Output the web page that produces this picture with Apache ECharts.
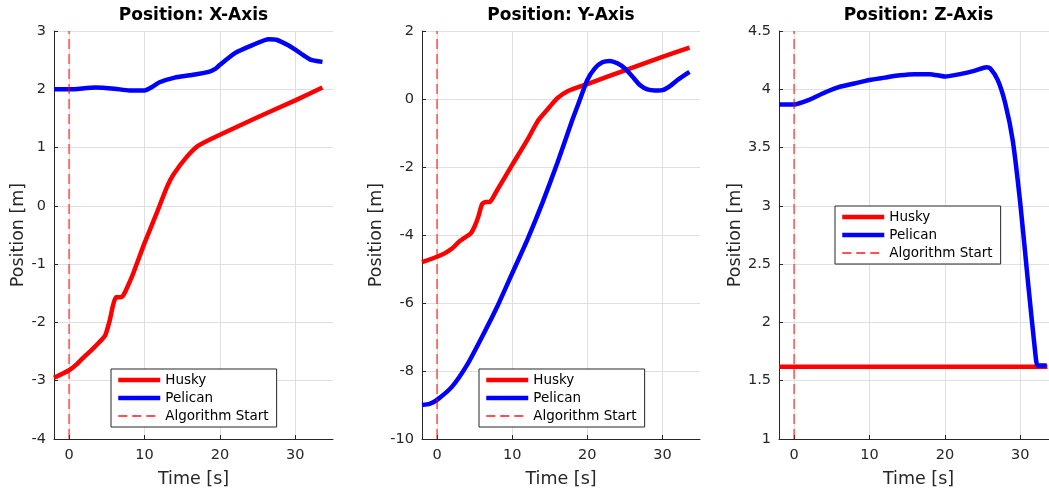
<!DOCTYPE html>
<html>
<head>
<meta charset="utf-8">
<script src="https://cdn.jsdelivr.net/npm/echarts@6/dist/echarts.min.js"></script>
<style>
  html, body { margin: 0; padding: 0; background: #fff; }
  #chart { width: 1049px; height: 488px; }
</style>
</head>
<body>
<div id="chart"></div>
<script>
// time ticks shared by all three panels
const timeTicks = [0, 10, 20, 30]

// X-axis panel
const huskyXTime = [-2, 0, 1, 2, 3, 4, 4.8, 5.4, 5.8, 6.2, 6.6, 7.1, 7.6, 8.5, 10, 11.6, 13, 13.8, 15.6, 17.1, 20, 25, 30, 33.6]
const huskyX = [-2.95, -2.82, -2.72, -2.59, -2.47, -2.34, -2.22, -1.96, -1.72, -1.57, -1.57, -1.55, -1.43, -1.16, -0.64, -0.13, 0.33, 0.53, 0.84, 1.03, 1.22, 1.52, 1.81, 2.03]
const pelicanXTime = [-2, 0, 3.5, 6, 8, 10, 11, 12, 14, 16, 18.5, 19.5, 20, 22, 24, 26.5, 27.5, 29, 30, 31, 32, 33.6]
const pelicanX = [2.0, 2.0, 2.03, 2.01, 1.98, 1.98, 2.04, 2.12, 2.2, 2.24, 2.3, 2.36, 2.42, 2.62, 2.74, 2.86, 2.85, 2.76, 2.68, 2.59, 2.51, 2.47]

// Y-axis panel
const huskyYTime = [-2, 0, 1, 2, 3, 4, 4.5, 5, 5.5, 6, 6.5, 7, 7.5, 8, 10, 12, 13.5, 15, 16, 17.5, 20, 25, 30, 33.6]
const huskyY = [-4.80, -4.64, -4.54, -4.40, -4.18, -4.03, -3.95, -3.75, -3.46, -3.09, -3.03, -3.03, -2.88, -2.68, -1.94, -1.21, -0.62, -0.23, 0.02, 0.24, 0.44, 0.84, 1.24, 1.51]
const pelicanYTime = [-2, -1, 0, 2, 4, 6, 8, 10, 12, 14, 16, 18, 19, 20, 21, 22, 23, 24, 25, 26, 27, 28, 29, 30, 31, 32, 33.6]
const pelicanY = [-9.0, -8.97, -8.85, -8.46, -7.82, -6.99, -6.11, -5.13, -4.15, -3.07, -1.89, -0.62, -0.03, 0.56, 0.9, 1.08, 1.12, 1.05, 0.9, 0.66, 0.41, 0.28, 0.25, 0.26, 0.38, 0.56, 0.8]

// Z-axis panel
const huskyZTime = [-2, 10, 20, 30, 33.6]
const huskyZ = [1.62, 1.62, 1.62, 1.62, 1.62]
const pelicanZTime = [-2, 0, 2, 4, 6, 8, 10, 12, 14, 16, 18, 20, 22, 24, 25.5, 26, 27, 28, 29, 30, 31, 32, 32.3, 33.5]
const pelicanZ = [3.87, 3.87, 3.91, 3.97, 4.02, 4.05, 4.08, 4.10, 4.12, 4.13, 4.13, 4.11, 4.13, 4.16, 4.19, 4.18, 4.08, 3.88, 3.56, 3.02, 2.36, 1.73, 1.63, 1.63]

// algorithm start marker (t = 0) spans each panel's y range
const startTime = [0, 0]
const startX = [-4, 3]
const startY = [-10, 2]
const startZ = [1, 4.5]

const titles = ['Position: X-Axis', 'Position: Y-Axis', 'Position: Z-Axis']
const yMin = [-4, -10, 1]
const yMax = [3, 2, 4.5]
const yStep = [1, 2, 0.5]

const FONT = 'DejaVu Sans'
const INK = '#262626'

const zip = (ts, vs) => ts.map((t, i) => [t, vs[i]])

const panels = [
  { husky: zip(huskyXTime, huskyX), pelican: zip(pelicanXTime, pelicanX), start: zip(startTime, startX) },
  { husky: zip(huskyYTime, huskyY), pelican: zip(pelicanYTime, pelicanY), start: zip(startTime, startY) },
  { husky: zip(huskyZTime, huskyZ), pelican: zip(pelicanZTime, pelicanZ), start: zip(startTime, startZ) },
]

// plot boxes; the third runs past the right edge like the original
const grids = [
  { left: 54, top: 31, width: 279, height: 408, outerBoundsMode: 'none' },
  { left: 422, top: 31, width: 278, height: 408, outerBoundsMode: 'none' },
  { left: 779, top: 31, width: 279, height: 408, outerBoundsMode: 'none' },
]
const yNameGap = [26.5, 36.5, 35]
const legendPos = [
  { left: 111, top: 369 },
  { left: 479, top: 369 },
  { left: 835, top: 206 },
]

const gridLine = { show: true, lineStyle: { color: '#dfdfdf', width: 1 } }
const axisLine = { show: true, onZero: false, lineStyle: { color: INK, width: 1 } }
const hiddenSymbol = { opacity: 0, borderWidth: 0 }

const option = {
  animation: false,
  backgroundColor: '#fff',
  title: titles.map((t, i) => ({
    text: t,
    left: grids[i].left + grids[i].width / 2,
    top: 7,
    padding: 0,
    textAlign: 'center',
    textStyle: { fontFamily: FONT, fontSize: 17, fontWeight: 'bold', color: '#000' },
  })),
  grid: grids,
  xAxis: grids.map((g, i) => ({
    type: 'value',
    gridIndex: i,
    min: -2,
    max: 35,
    name: 'Time [s]',
    nameLocation: 'middle',
    nameGap: 31,
    nameTextStyle: { fontFamily: FONT, fontSize: 17.5, color: INK },
    axisLine: axisLine,
    axisTick: { show: true, inside: true, length: 4, customValues: timeTicks, lineStyle: { color: INK } },
    axisLabel: { customValues: timeTicks, margin: 9, fontFamily: FONT, fontSize: 14.5, color: INK },
    splitLine: gridLine,
  })),
  yAxis: grids.map((g, i) => ({
    type: 'value',
    gridIndex: i,
    min: yMin[i],
    max: yMax[i],
    interval: yStep[i],
    name: 'Position [m]',
    nameLocation: 'middle',
    nameGap: yNameGap[i],
    nameTextStyle: { fontFamily: FONT, fontSize: 17.5, color: INK },
    axisLine: axisLine,
    axisTick: { show: true, inside: true, length: 4, lineStyle: { color: INK } },
    axisLabel: { margin: 8, fontFamily: FONT, fontSize: 14.5, color: INK },
    splitLine: gridLine,
  })),
  legend: legendPos.map((p) => ({
    left: p.left,
    top: p.top,
    orient: 'vertical',
    itemWidth: 42,
    itemHeight: 14,
    itemGap: 4,
    padding: [4, 8, 4, 5],
    borderColor: INK,
    borderWidth: 1,
    backgroundColor: '#fff',
    selectedMode: false,
    textStyle: { fontFamily: FONT, fontSize: 13.5, color: '#000' },
    itemStyle: hiddenSymbol,
    lineStyle: { width: 'inherit' },
    data: [
      { name: 'Husky', itemStyle: hiddenSymbol },
      { name: 'Pelican', itemStyle: hiddenSymbol },
      { name: 'Algorithm Start', itemStyle: hiddenSymbol, lineStyle: { width: 1.5, color: '#ff0000', opacity: 0.9, type: [9, 5] } },
    ],
  })),
  series: panels.flatMap((p, i) => [
    {
      name: 'Husky', type: 'line', xAxisIndex: i, yAxisIndex: i,
      data: p.husky, symbol: 'none', smooth: 0.2,
      lineStyle: { color: '#ff0000', width: 4.5 },
      itemStyle: { color: '#ff0000' },
    },
    {
      name: 'Pelican', type: 'line', xAxisIndex: i, yAxisIndex: i,
      data: p.pelican, symbol: 'none', smooth: 0.2,
      lineStyle: { color: '#0000ff', width: 4.5 },
      itemStyle: { color: '#0000ff' },
    },
    {
      name: 'Algorithm Start', type: 'line', xAxisIndex: i, yAxisIndex: i,
      data: p.start, symbol: 'none',
      lineStyle: { color: '#ff0000', width: 2, opacity: 0.5, type: [10, 5] },
      itemStyle: { color: '#ff0000' },
    },
  ]),
}

const chart = echarts.init(document.getElementById('chart'), null, { renderer: 'canvas' })
chart.setOption(option)
</script>
</body>
</html>
